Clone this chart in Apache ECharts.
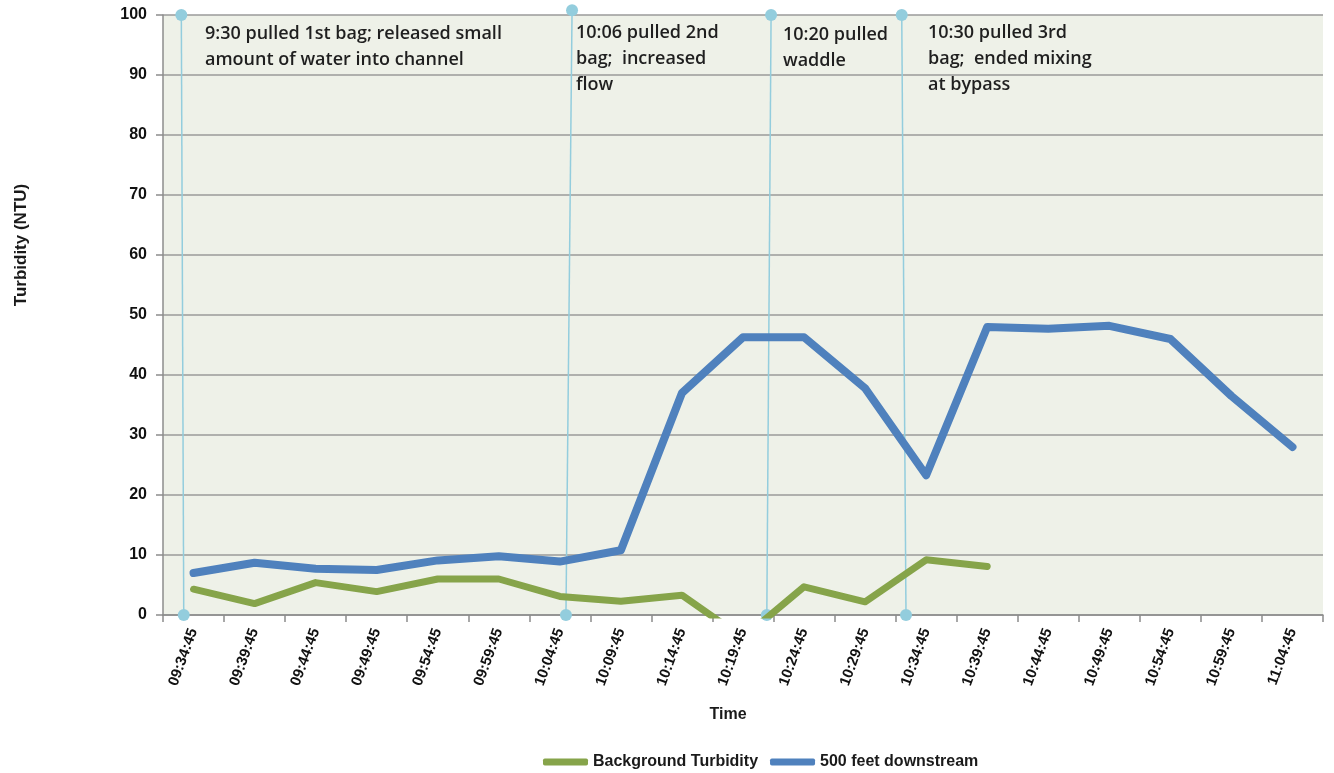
<!DOCTYPE html>
<html lang="en">
<head>
    <meta charset="UTF-8">
    <title>Turbidity</title>
    <script type="text/javascript" src="https://cdn.jsdelivr.net/npm/echarts@6/dist/echarts.min.js"></script>
</head>
<style>
    html, body {
        margin: 0;
        padding: 0;
        background-color: #fff;
    }
    #chart {
        width: 1334px;
        height: 773px;
    }
</style>
<body>
<div id="chart"></div>
</body>
<script>
    // sample times (x axis)
    var times = ['09:34:45', '09:39:45', '09:44:45', '09:49:45', '09:54:45', '09:59:45', '10:04:45',
        '10:09:45', '10:14:45', '10:19:45', '10:24:45', '10:29:45', '10:34:45', '10:39:45',
        '10:44:45', '10:49:45', '10:54:45', '10:59:45', '11:04:45'];
    var yTicks = [0, 10, 20, 30, 40, 50, 60, 70, 80, 90, 100];

    var background = [4.3, 1.9, 5.4, 3.9, 6.0, 6.0, 3.1, 2.3, 3.3, -3.8, 4.7, 2.2, 9.2, 8.1,
        null, null, null, null, null];
    var downstream = [7.0, 8.7, 7.7, 7.5, 9.1, 9.8, 8.9, 10.8, 37, 46.3, 46.3, 37.8, 23.3, 48,
        47.7, 48.2, 46, 36.5, 28];

    // event marker lines (x as category index, top point and bottom point)
    var eventTopX = [-0.2, 6.2, 9.46, 11.6];
    var eventBottomX = [-0.16, 6.1, 9.39, 11.67];
    var eventTopY = [100, 100.8, 100, 100];
    var eventBottomY = [0, 0, 0, 0];
    var eventNotes = [
        '9:30 pulled 1st bag; released small\namount of water into channel',
        '10:06 pulled 2nd\nbag;  increased\nflow',
        '10:20 pulled\nwaddle',
        '10:30 pulled 3rd\nbag;  ended mixing\nat bypass'
    ];
    var notePos = [[205, 21], [576, 20], [783, 22], [928, 20]];

    var myChart = echarts.init(document.getElementById('chart'));

    var eventSeries = [];
    for (var i = 0; i < eventTopX.length; i++) {
        eventSeries.push({
            type: 'line',
            xAxisIndex: 1,
            data: [[eventTopX[i], eventTopY[i]], [eventBottomX[i], eventBottomY[i]]],
            symbol: 'circle',
            symbolSize: 12,
            showSymbol: true,
            clip: false,
            silent: true,
            itemStyle: {color: '#93cddd'},
            lineStyle: {color: '#93cddd', width: 1.5},
            z: 3
        });
    }

    var graphics = [{
        type: 'text',
        x: 21,
        y: 245,
        rotation: Math.PI / 2,
        style: {
            text: 'Turbidity (NTU)',
            font: 'bold 17px "Liberation Sans", Arial, sans-serif',
            fill: '#1a1a1a',
            align: 'center',
            verticalAlign: 'middle'
        }
    }];
    for (var j = 0; j < eventNotes.length; j++) {
        graphics.push({
            type: 'text',
            x: notePos[j][0],
            y: notePos[j][1],
            z: 10,
            style: {
                text: eventNotes[j],
                font: '600 18px "Open Sans", sans-serif',
                fill: '#1f1f1f',
                lineHeight: 26
            }
        });
    }

    var option = {
        animation: false,
        grid: {
            left: 163,
            right: 11,
            top: 15,
            bottom: 158,
            show: true,
            backgroundColor: '#eef1e8',
            borderWidth: 0
        },
        legend: {
            top: 749,
            left: 538,
            itemWidth: 45,
            itemHeight: 7,
            itemGap: 12,
            icon: 'roundRect',
            data: ['Background Turbidity', '500 feet downstream'],
            textStyle: {
                fontFamily: 'Liberation Sans',
                fontWeight: 'bold',
                fontSize: 16,
                color: '#1a1a1a'
            }
        },
        xAxis: [{
            type: 'category',
            data: times,
            boundaryGap: true,
            name: 'Time',
            nameLocation: 'middle',
            nameGap: 92,
            nameTextStyle: {
                fontFamily: 'Liberation Sans',
                fontWeight: 'bold',
                fontSize: 16,
                color: '#1a1a1a',
                padding: [0, 30, 0, 0]
            },
            axisLine: {lineStyle: {color: '#8c8c8c', width: 1.5}},
            axisTick: {show: true, length: 7, lineStyle: {color: '#8c8c8c', width: 1.5}},
            axisLabel: {
                rotate: 70,
                margin: 14,
                interval: 0,
                fontFamily: 'Liberation Sans',
                fontWeight: 'bold',
                fontSize: 15,
                color: '#111'
            }
        }, {
            type: 'value',
            min: -0.5,
            max: 18.5,
            show: false
        }],
        yAxis: {
            type: 'value',
            min: yTicks[0],
            max: yTicks[yTicks.length - 1],
            interval: yTicks[1] - yTicks[0],
            axisLine: {show: true, onZero: false, lineStyle: {color: '#8c8c8c', width: 1.5}},
            axisTick: {show: true, length: 7, lineStyle: {color: '#8c8c8c', width: 1.5}},
            splitLine: {lineStyle: {color: '#9a9a9a', width: 1.5}},
            axisLabel: {
                margin: 16,
                fontFamily: 'Liberation Sans',
                fontWeight: 'bold',
                fontSize: 16,
                color: '#111'
            }
        },
        series: [{
            name: 'Background Turbidity',
            type: 'line',
            data: background,
            symbol: 'none',
            connectNulls: false,
            itemStyle: {color: '#86a44a'},
            lineStyle: {color: '#86a44a', width: 7, cap: 'round', join: 'round'},
            z: 4
        }, {
            name: '500 feet downstream',
            type: 'line',
            data: downstream,
            symbol: 'none',
            itemStyle: {color: '#4f81bd'},
            lineStyle: {color: '#4f81bd', width: 8, cap: 'round', join: 'round'},
            z: 5
        }].concat(eventSeries),
        graphic: graphics
    };
    myChart.setOption(option);
</script>
</html>
